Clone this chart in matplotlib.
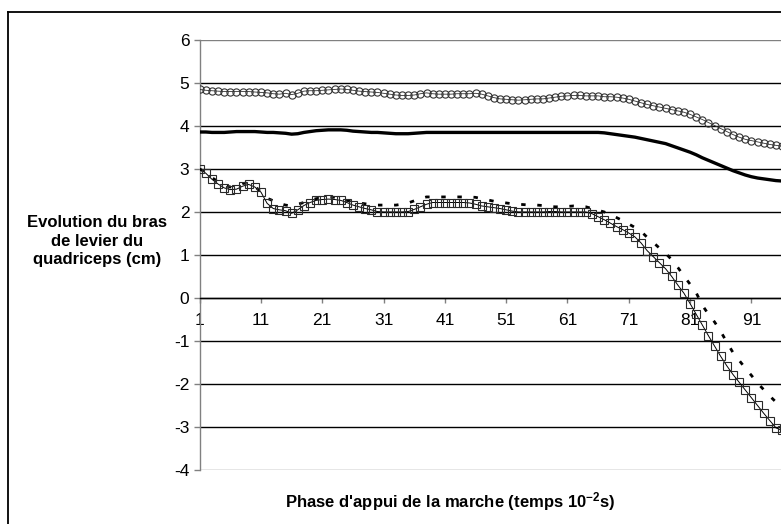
import matplotlib
matplotlib.use("Agg")
import matplotlib.pyplot as plt
from matplotlib.lines import Line2D

plt.rcParams['font.family'] = ['Liberation Sans', 'DejaVu Sans']
plt.rcParams['mathtext.fontset'] = 'custom'
plt.rcParams['mathtext.rm'] = 'Liberation Sans:bold'
plt.rcParams['mathtext.default'] = 'rm'
plt.rcParams['axes.unicode_minus'] = False

# temps (10^-2 s), un point par centième de seconde
temps = list(range(1, 97))

# courbe à cercles
bras_cercles = [
    4.85, 4.83, 4.82, 4.81, 4.80, 4.80, 4.80, 4.80, 4.80, 4.79,
    4.78, 4.77, 4.75, 4.74, 4.76, 4.73, 4.76, 4.81, 4.82, 4.82,
    4.83, 4.84, 4.85, 4.86, 4.85, 4.83, 4.81, 4.80, 4.79, 4.78,
    4.76, 4.74, 4.72, 4.71, 4.71, 4.72, 4.75, 4.77, 4.75, 4.74,
    4.74, 4.74, 4.75, 4.75, 4.75, 4.76, 4.74, 4.70, 4.66, 4.63,
    4.62, 4.61, 4.60, 4.61, 4.62, 4.63, 4.63, 4.65, 4.67, 4.69,
    4.70, 4.71, 4.71, 4.70, 4.70, 4.70, 4.68, 4.68, 4.67, 4.65,
    4.62, 4.58, 4.54, 4.50, 4.47, 4.44, 4.41, 4.38, 4.35, 4.32,
    4.27, 4.21, 4.15, 4.08, 4.01, 3.94, 3.87, 3.80, 3.74, 3.69,
    3.66, 3.63, 3.60, 3.57, 3.55, 3.53,
]

# courbe en trait plein
bras_plein = [
    3.86, 3.86, 3.85, 3.85, 3.85, 3.86, 3.87, 3.87, 3.87, 3.87,
    3.86, 3.85, 3.85, 3.84, 3.83, 3.81, 3.82, 3.85, 3.87, 3.89,
    3.90, 3.91, 3.91, 3.91, 3.90, 3.88, 3.87, 3.86, 3.85, 3.85,
    3.84, 3.83, 3.82, 3.82, 3.82, 3.83, 3.84, 3.85, 3.85, 3.85,
    3.85, 3.85, 3.85, 3.85, 3.85, 3.85, 3.85, 3.85, 3.85, 3.85,
    3.85, 3.85, 3.85, 3.85, 3.85, 3.85, 3.85, 3.85, 3.85, 3.85,
    3.85, 3.85, 3.85, 3.85, 3.85, 3.85, 3.84, 3.82, 3.80, 3.78,
    3.76, 3.74, 3.71, 3.68, 3.65, 3.62, 3.59, 3.54, 3.49, 3.44,
    3.39, 3.33, 3.26, 3.20, 3.14, 3.08, 3.02, 2.96, 2.91, 2.86,
    2.82, 2.79, 2.77, 2.75, 2.73, 2.72,
]

# courbe à carrés
bras_carres = [
    3.00, 2.90, 2.76, 2.65, 2.56, 2.52, 2.53, 2.60, 2.64, 2.58,
    2.46, 2.20, 2.08, 2.05, 2.03, 1.97, 2.05, 2.15, 2.22, 2.27,
    2.29, 2.30, 2.29, 2.27, 2.22, 2.16, 2.12, 2.08, 2.05, 2.01,
    2.00, 2.00, 2.00, 2.00, 2.01, 2.06, 2.12, 2.18, 2.22, 2.22,
    2.22, 2.22, 2.22, 2.22, 2.21, 2.18, 2.14, 2.12, 2.10, 2.08,
    2.05, 2.02, 2.00, 2.00, 2.00, 2.00, 2.00, 2.01, 2.01, 2.00,
    2.00, 2.00, 2.00, 2.00, 1.96, 1.89, 1.82, 1.74, 1.66, 1.59,
    1.51, 1.42, 1.28, 1.10, 0.96, 0.82, 0.68, 0.50, 0.30, 0.11,
    -0.13, -0.38, -0.63, -0.88, -1.12, -1.36, -1.58, -1.78, -1.96, -2.14,
    -2.32, -2.50, -2.68, -2.85, -3.02, -3.08,
]

# courbe en pointillés
bras_pointilles = [
    3.00, 2.92, 2.80, 2.70, 2.62, 2.58, 2.60, 2.66, 2.68, 2.60,
    2.46, 2.32, 2.26, 2.20, 2.16, 2.14, 2.18, 2.22, 2.27, 2.31,
    2.33, 2.35, 2.34, 2.31, 2.27, 2.24, 2.21, 2.19, 2.17, 2.16,
    2.16, 2.16, 2.16, 2.18, 2.21, 2.26, 2.31, 2.35, 2.35, 2.35,
    2.35, 2.35, 2.35, 2.35, 2.35, 2.34, 2.31, 2.28, 2.25, 2.23,
    2.21, 2.19, 2.18, 2.17, 2.16, 2.16, 2.15, 2.13, 2.12, 2.12,
    2.13, 2.14, 2.13, 2.12, 2.08, 2.04, 2.00, 1.94, 1.87, 1.80,
    1.72, 1.64, 1.55, 1.41, 1.29, 1.16, 1.04, 0.89, 0.71, 0.51,
    0.32, 0.12, -0.17, -0.38, -0.56, -0.78, -1.03, -1.27, -1.45, -1.63,
    -1.80, -1.98, -2.13, -2.28, -2.42, -2.50,
]

y_ticks = list(range(-4, 7))
x_ticks = list(range(1, 97, 10))

fig = plt.figure(figsize=(7.81, 5.24), dpi=100)
ax = fig.add_axes([0.2557, 0.1031, 0.7443, 0.8206])

ax.plot(temps, bras_cercles, color='#333333', lw=0.6, marker='o', ms=5.2,
        mfc='none', mec='#333333', mew=0.8, zorder=3)
ax.plot(temps, bras_plein, color='black', lw=2.4, zorder=3)
ax.plot(temps, bras_pointilles, color='black', lw=2.0, dashes=(1.6, 4.2),
        zorder=4)
ax.plot(temps, bras_carres, color='black', lw=0.7, marker='s', ms=5.8,
        mfc='none', mec='#2a2a2a', mew=0.8, zorder=5)

ax.set_xlim(1, 95.83)
ax.set_ylim(-4, 6)

for side in ('top', 'right'):
    ax.spines[side].set_visible(False)
ax.spines['left'].set_color('#808080')
ax.spines['left'].set_linewidth(1.0)
ax.spines['bottom'].set_position(('data', 0))
ax.spines['bottom'].set_color('black')
ax.spines['bottom'].set_linewidth(1.0)

ax.set_yticks(y_ticks)
ax.set_xticks(x_ticks)
ax.tick_params(axis='y', direction='out', length=4.5, width=1.0,
               color='#808080', pad=3, labelsize=12.5)
ax.tick_params(axis='x', direction='out', length=3.5, width=1.0,
               color='#808080', pad=7, labelsize=12.5)

ax.yaxis.grid(True, color='black', lw=1.0)
gl = ax.get_ygridlines()
gl[0].set_color('#808080')
gl[-1].set_color('#808080')
ax.set_axisbelow(True)

fig.text(97 / 781, 1 - 241 / 524,
         "Evolution du bras\nde levier du\nquadriceps (cm)",
         ha='center', va='center', fontsize=12, fontweight='bold',
         linespacing=1.3)
fig.text(450 / 781, 1 - 502 / 524,
         "Phase d'appui de la marche (temps 10$^{-2}$s)",
         ha='center', va='center', fontsize=12, fontweight='bold')

# cadre du graphique
fig.add_artist(Line2D([8 / 781, 8 / 781], [0, 1 - 12 / 524],
                      transform=fig.transFigure, color='black', lw=1.3))
fig.add_artist(Line2D([8 / 781, 1], [1 - 12 / 524, 1 - 12 / 524],
                      transform=fig.transFigure, color='black', lw=1.3))

fig.savefig("out.png", dpi=100)
